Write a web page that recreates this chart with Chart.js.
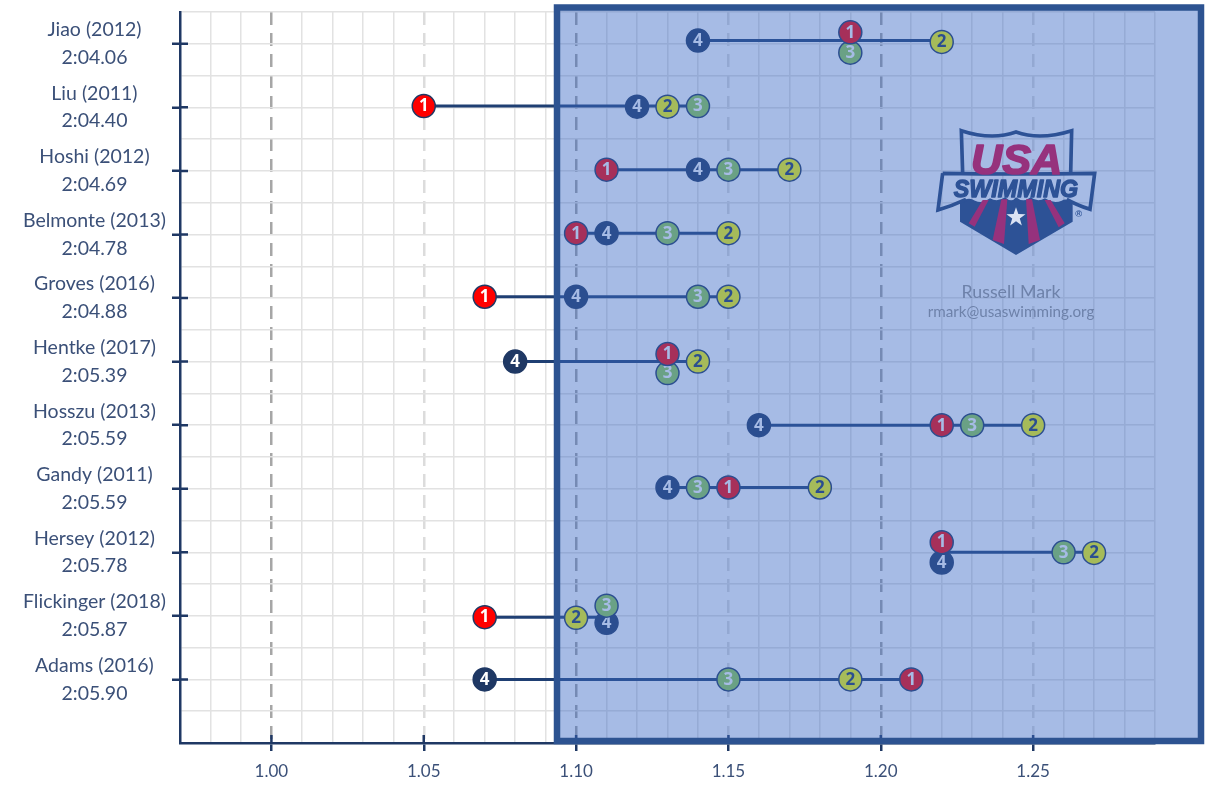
<!DOCTYPE html>
<html>
<head>
<meta charset="utf-8">
<style>
html, body { margin: 0; padding: 0; background: #fff; }
canvas { display: block; }
</style>
<script src="https://cdn.jsdelivr.net/npm/chart.js@4"></script>
</head>
<body>
<canvas id="chart" width="1205" height="786"></canvas>
<script>
const swimmers = ['Jiao (2012)', 'Liu (2011)', 'Hoshi (2012)', 'Belmonte (2013)', 'Groves (2016)', 'Hentke (2017)', 'Hosszu (2013)', 'Gandy (2011)', 'Hersey (2012)', 'Flickinger (2018)', 'Adams (2016)'];
const times = ['2:04.06', '2:04.40', '2:04.69', '2:04.78', '2:04.88', '2:05.39', '2:05.59', '2:05.59', '2:05.78', '2:05.87', '2:05.90'];

// split ratio per 50
const split1 = [1.19, 1.05, 1.11, 1.10, 1.07, 1.13, 1.22, 1.15, 1.22, 1.07, 1.21];
const split2 = [1.22, 1.13, 1.17, 1.15, 1.15, 1.14, 1.25, 1.18, 1.27, 1.10, 1.19];
const split3 = [1.19, 1.14, 1.15, 1.13, 1.14, 1.13, 1.23, 1.14, 1.26, 1.11, 1.15];
const split4 = [1.14, 1.12, 1.14, 1.11, 1.10, 1.08, 1.16, 1.13, 1.22, 1.11, 1.07];

// vertical position of each row, the ties are moved up or down so both stay visible
const rowShift = [-0.05, -0.02, -0.02, -0.02, -0.02, 0, 0, -0.02, 0, 0.02, 0];
const shift1 = [-0.18, -0.02, -0.02, -0.02, -0.02, -0.12, 0, -0.02, -0.16, 0.02, 0];
const shift2 = [-0.03, -0.01, -0.02, -0.02, -0.02, 0, 0, -0.02, 0.01, 0.03, 0];
const shift3 = [0.14, -0.02, -0.02, -0.02, -0.02, 0.18, 0, -0.02, 0, -0.16, 0];
const shift4 = [-0.05, -0.01, -0.02, -0.02, -0.02, 0, 0, -0.02, 0.16, 0.11, 0];

const navy = '#1f3864';
const textColor = '#3b5078';
const gridColor = '#e2e2e2';

function isFive(v) {
    return Math.round(v * 100) % 5 === 0;
}

function legDataset(num, values, shifts, color, numColor) {
    return {
        label: String(num),
        data: values.map((v, i) => ({ x: v, y: i + shifts[i] })),
        showLine: false,
        order: num,
        pointRadius: 11.5,
        pointHoverRadius: 11.5,
        pointBackgroundColor: color,
        pointBorderColor: navy,
        pointBorderWidth: 1.5,
        numColor: numColor
    };
}

const rowLines = swimmers.map((name, i) => {
    const all = [split1[i], split2[i], split3[i], split4[i]];
    return {
        label: name,
        data: [
            { x: Math.min(...all), y: i + rowShift[i] },
            { x: Math.max(...all), y: i + rowShift[i] }
        ],
        showLine: true,
        order: 10,
        borderColor: '#1f3f73',
        borderWidth: 3,
        pointRadius: 0
    };
});

// number inside each marker
const markerNumbers = {
    id: 'markerNumbers',
    afterDatasetDraw(chart, args) {
        const ds = chart.data.datasets[args.index];
        if (!ds.numColor) return;
        const ctx = chart.ctx;
        ctx.save();
        ctx.font = 'bold 17px "Open Sans"';
        ctx.textAlign = 'center';
        ctx.textBaseline = 'middle';
        ctx.fillStyle = ds.numColor;
        args.meta.data.forEach(p => ctx.fillText(ds.label, p.x, p.y + 0.5));
        ctx.restore();
    }
};

// short stubs inside the plot, the library only draws the outer half of a tick
const innerTicks = {
    id: 'innerTicks',
    afterDatasetsDraw(chart) {
        const ctx = chart.ctx;
        const x = chart.scales.x;
        const y = chart.scales.y;
        ctx.save();
        ctx.strokeStyle = navy;
        ctx.lineWidth = 2.5;
        ctx.beginPath();
        swimmers.forEach((s, i) => {
            const py = y.getPixelForValue(i);
            ctx.moveTo(x.left, py);
            ctx.lineTo(x.left + 8, py);
        });
        x.ticks.forEach(t => {
            if (!isFive(t.value)) return;
            const px = x.getPixelForValue(t.value);
            ctx.moveTo(px, y.bottom);
            ctx.lineTo(px, y.bottom - 8);
        });
        ctx.stroke();
        ctx.restore();
    }
};

function drawLogo(ctx) {
    ctx.save();
    ctx.translate(880, 110);
    ctx.scale(1 / 3, 1 / 3);

    const blue = '#2d5296';
    const pink = '#96327d';

    // lower shield
    ctx.fillStyle = blue;
    ctx.beginPath();
    ctx.moveTo(240, 280);
    ctx.quadraticCurveTo(262, 258, 285, 272);
    ctx.quadraticCurveTo(308, 282, 330, 265);
    ctx.quadraticCurveTo(352, 278, 375, 262);
    ctx.quadraticCurveTo(395, 280, 408, 262);
    ctx.quadraticCurveTo(430, 280, 452, 262);
    ctx.quadraticCurveTo(472, 278, 495, 265);
    ctx.quadraticCurveTo(520, 282, 545, 272);
    ctx.quadraticCurveTo(560, 262, 578, 280);
    ctx.lineTo(578, 335);
    ctx.lineTo(408, 435);
    ctx.lineTo(240, 335);
    ctx.closePath();
    ctx.fill();

    // stripes
    ctx.fillStyle = pink;
    [
        [[308, 270], [326, 270], [284, 350], [266, 340]],
        [[364, 268], [382, 268], [372, 402], [338, 390]],
        [[438, 268], [456, 268], [480, 390], [446, 402]],
        [[494, 270], [512, 270], [554, 340], [536, 352]]
    ].forEach(s => {
        ctx.beginPath();
        s.forEach((p, i) => i ? ctx.lineTo(p[0], p[1]) : ctx.moveTo(p[0], p[1]));
        ctx.closePath();
        ctx.fill();
    });

    // star
    ctx.fillStyle = '#dbe3f4';
    ctx.beginPath();
    for (let i = 0; i < 10; i++) {
        const r = i % 2 ? 12 : 30;
        const a = -Math.PI / 2 + i * Math.PI / 5;
        ctx.lineTo(408 + r * Math.cos(a), 322 + r * Math.sin(a));
    }
    ctx.closePath();
    ctx.fill();

    // outline of the top part and the banner
    ctx.strokeStyle = blue;
    ctx.lineWidth = 11;
    ctx.lineJoin = 'miter';
    ctx.beginPath();
    ctx.moveTo(248, 190);
    ctx.lineTo(244, 62);
    ctx.quadraticCurveTo(335, 92, 408, 66);
    ctx.quadraticCurveTo(480, 92, 575, 62);
    ctx.lineTo(572, 190);
    ctx.stroke();
    ctx.beginPath();
    ctx.moveTo(188, 190);
    ctx.quadraticCurveTo(300, 192, 408, 192);
    ctx.quadraticCurveTo(520, 192, 644, 190);
    ctx.lineTo(630, 298);
    ctx.quadraticCurveTo(590, 285, 560, 268);
    ctx.moveTo(188, 190);
    ctx.lineTo(174, 300);
    ctx.quadraticCurveTo(215, 288, 258, 268);
    ctx.stroke();

    ctx.textAlign = 'center';
    ctx.textBaseline = 'alphabetic';
    ctx.lineJoin = 'round';
    ctx.fillStyle = pink;
    ctx.strokeStyle = pink;
    ctx.lineWidth = 5;
    ctx.font = 'italic bold 130px "Liberation Sans"';
    ctx.strokeText('USA', 410, 192);
    ctx.fillText('USA', 410, 192);
    ctx.fillStyle = blue;
    ctx.strokeStyle = blue;
    ctx.lineWidth = 4;
    ctx.font = 'italic bold 70px "Liberation Sans"';
    ctx.strokeText('SWIMMING', 408, 261);
    ctx.fillText('SWIMMING', 408, 261);
    ctx.font = 'bold 28px "Liberation Sans"';
    ctx.fillText('®', 596, 320);
    ctx.restore();
}

// the blue panel goes over everything, that is what tints the markers inside it
const panel = {
    id: 'panel',
    afterDraw(chart) {
        const ctx = chart.ctx;
        ctx.save();
        ctx.fillStyle = 'rgba(60, 105, 197, 0.455)';
        ctx.fillRect(557, 7.5, 644, 733.5);
        ctx.strokeStyle = '#2d5391';
        ctx.lineWidth = 6.5;
        ctx.strokeRect(557, 7.5, 644, 733.5);
        ctx.restore();

        drawLogo(ctx);

        ctx.save();
        ctx.textAlign = 'center';
        ctx.textBaseline = 'middle';
        ctx.fillStyle = '#6e82aa';
        ctx.font = '17.8px Lato';
        ctx.fillText('Russell Mark', 1011, 292);
        ctx.font = '15.2px Lato';
        ctx.fillText('rmark@usaswimming.org', 1011, 312);
        ctx.restore();
    }
};

new Chart(document.getElementById('chart'), {
    type: 'scatter',
    data: {
        datasets: [
            legDataset(1, split1, shift1, '#ff0000', '#ffffff'),
            legDataset(2, split2, shift2, '#ffff00', '#1f3864'),
            legDataset(3, split3, shift3, '#92d050', '#ffffff'),
            legDataset(4, split4, shift4, navy, '#ffffff'),
            ...rowLines
        ]
    },
    plugins: [markerNumbers, innerTicks, panel],
    options: {
        responsive: false,
        animation: false,
        layout: { autoPadding: false, padding: { top: 12, right: 50, left: 0, bottom: 0 } },
        plugins: {
            legend: { display: false },
            tooltip: { enabled: false }
        },
        scales: {
            x: {
                type: 'linear',
                min: 0.97,
                max: 1.29,
                afterFit(scale) {
                    scale.height = 43;
                    scale.paddingLeft = 0;
                    scale.paddingRight = 0;
                },
                border: { color: navy, width: 2.5, dash: ctx => (ctx.tick && isFive(ctx.tick.value) ? [13, 8] : []) },
                grid: {
                    lineWidth: ctx => (ctx.tick && isFive(ctx.tick.value) ? 2.5 : 1.5),
                    tickLength: 8,
                    tickWidth: 2.5,
                    color: ctx => {
                        if (!ctx.tick || !isFive(ctx.tick.value)) return gridColor;
                        return Math.round(ctx.tick.value * 100) % 10 === 0 ? '#a6a6a6' : '#dcdcdc';
                    },
                    tickColor: ctx => (ctx.tick && isFive(ctx.tick.value) ? navy : 'rgba(0,0,0,0)')
                },
                ticks: {
                    stepSize: 0.01,
                    autoSkip: false,
                    maxRotation: 0,
                    padding: 10,
                    color: textColor,
                    font: { family: 'Lato', size: 17 },
                    callback: v => (isFive(v) ? v.toFixed(2) : '')
                }
            },
            y: {
                type: 'linear',
                reverse: true,
                min: -0.5,
                max: 11,
                afterFit(scale) {
                    scale.width = 180;
                    scale.paddingTop = 0;
                    scale.paddingBottom = 0;
                },
                border: { color: navy, width: 2.5 },
                grid: {
                    lineWidth: 1.5,
                    color: gridColor,
                    tickLength: 8,
                    tickWidth: 2.5,
                    tickColor: ctx => (ctx.tick && Number.isInteger(ctx.tick.value) && ctx.tick.value < swimmers.length ? navy : 'rgba(0,0,0,0)')
                },
                ticks: {
                    stepSize: 0.5,
                    autoSkip: false,
                    crossAlign: 'center',
                    padding: 6,
                    color: textColor,
                    font: { family: 'Lato', size: 19.5, lineHeight: 1.42 },
                    callback: v => (Number.isInteger(v) && v >= 0 && v < swimmers.length ? [swimmers[v], times[v]] : '')
                }
            }
        }
    }
});
</script>
</body>
</html>
